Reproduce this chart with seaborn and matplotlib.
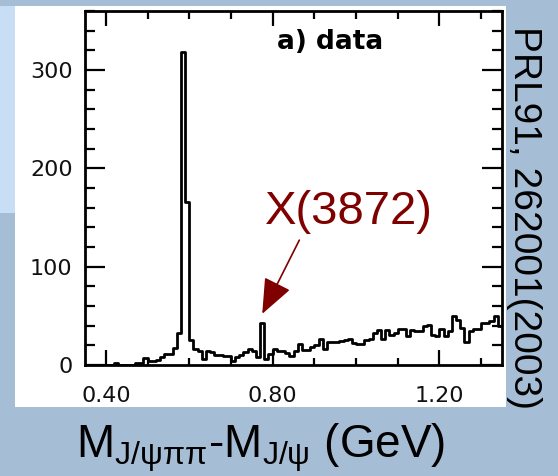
import numpy as np
import pandas as pd
import matplotlib
matplotlib.use("Agg")
import matplotlib.pyplot as plt
from matplotlib.patches import Rectangle
from matplotlib.ticker import MultipleLocator, FixedLocator, FormatStrFormatter
import seaborn as sns

# ---- data ----
bin_low = 0.35
bin_width = 0.01
counts = [0, 0, 0, 0, 0, 0, 0, 2, 0, 0,
          0, 0, 2, 2, 7, 4, 4, 5, 8, 11,
          11, 17, 33, 318, 166, 25, 16, 14, 6, 14,
          13, 10, 10, 9, 9, 4, 8, 10, 13, 16,
          14, 8, 43, 6, 11, 16, 14, 14, 12, 9,
          14, 21, 15, 15, 18, 20, 26, 16, 23, 23,
          23, 24, 25, 26, 22, 21, 21, 25, 26, 33,
          36, 26, 36, 31, 33, 37, 37, 30, 36, 35,
          35, 40, 41, 31, 30, 37, 30, 35, 50, 46,
          38, 23, 35, 37, 37, 43, 43, 45, 50, 40]
x_ticks = [0.40, 0.80, 1.20]
y_ticks = [0, 100, 200, 300]
panel_label = "a) data"
peak_label = "X(3872)"
x_label = r"$\mathregular{M_{J/\psi\pi\pi}}$-$\mathregular{M_{J/\psi}}$ (GeV)"
ref_label = "PRL91, 262001(2003)"

n_bins = len(counts)
edges = bin_low + bin_width * np.arange(n_bins + 1)
centers = edges[:-1] + bin_width / 2
df = pd.DataFrame({"mass": centers, "events": counts})

plt.rcParams["mathtext.fontset"] = "custom"
plt.rcParams["mathtext.rm"] = "Liberation Sans"

# ---- figure ----
W, H = 558, 476
fig = plt.figure(figsize=(W / 100, H / 100), dpi=100)
fig.patch.set_facecolor("#a6bdd6")

def px_rect(x0, y0, x1, y1, **kw):
    fig.patches.append(Rectangle((x0 / W, 1 - y1 / H), (x1 - x0) / W, (y1 - y0) / H,
                                 transform=fig.transFigure, figure=fig, **kw))

px_rect(0, 6, 15, 213, facecolor="#c7def4", edgecolor="none", zorder=-10)
px_rect(15, 6, 506, 407, facecolor="white", edgecolor="none", zorder=-10)

ax = fig.add_axes([85 / W, 1 - 365 / H, 417 / W, 354 / H])
ax.set_facecolor("none")
ax.set_zorder(5)

sns.histplot(data=df, x="mass", weights="events", bins=edges.tolist(), element="step",
             fill=False, color="black", linewidth=2.0, ax=ax)

ax.set_xlim(edges[0], edges[-1])
ax.set_ylim(0, 360)
ax.set_xlabel("")
ax.set_ylabel("")

for s in ax.spines.values():
    s.set_linewidth(2.0)
    s.set_color("black")

ax.xaxis.set_major_locator(FixedLocator(x_ticks))
ax.xaxis.set_minor_locator(MultipleLocator(0.1))
ax.xaxis.set_major_formatter(FormatStrFormatter("%.2f"))
ax.yaxis.set_major_locator(FixedLocator(y_ticks))
ax.yaxis.set_minor_locator(MultipleLocator(20))

ax.tick_params(axis="both", which="both", direction="in", top=True, right=True,
               width=1.6, color="black", labelcolor="#111111")
ax.tick_params(axis="x", which="major", length=10.8, pad=15, labelsize=16)
ax.tick_params(axis="x", which="minor", length=5.4)
ax.tick_params(axis="y", which="major", length=14.4, pad=9, labelsize=16)
ax.tick_params(axis="y", which="minor", length=7.2)
for lab in ax.get_xticklabels() + ax.get_yticklabels():
    lab.set_family("DejaVu Sans")

ax.text(0.5875, 0.913, panel_label, transform=ax.transAxes, ha="center", va="center",
        fontsize=19, fontweight="bold", family="DejaVu Sans", color="black")

# X(3872) annotation, anchored to the bin with the narrow peak
x_region = (centers > 0.7) & (centers < 0.85)
ix = int(np.argmax(np.where(x_region, counts, -1)))
tip = (centers[ix], counts[ix] + 9)
ax.annotate("", xy=tip, xytext=(tip[0] + 0.089, tip[1] + 75),
            arrowprops=dict(arrowstyle="-|>,head_length=2.2,head_width=0.9",
                            color="#800000", lw=1.2, shrinkA=0, shrinkB=0,
                            mutation_scale=10))
ax.text(tip[0] + 0.006, tip[1] + 91, peak_label, color="#800000", fontsize=34,
        family=["Liberation Sans", "DejaVu Sans"], ha="left", va="baseline")

fig.text(261 / W, 1 - 457 / H, x_label, ha="center", va="baseline", fontsize=33,
         family=["Liberation Sans", "DejaVu Sans"], color="black")

fig.text(524 / W, 1 - 26 / H, ref_label, rotation=-90, ha="center", va="top",
         fontsize=28, family=["Liberation Sans", "DejaVu Sans"], color="black")

fig.savefig("out.png", dpi=100, facecolor=fig.get_facecolor())
